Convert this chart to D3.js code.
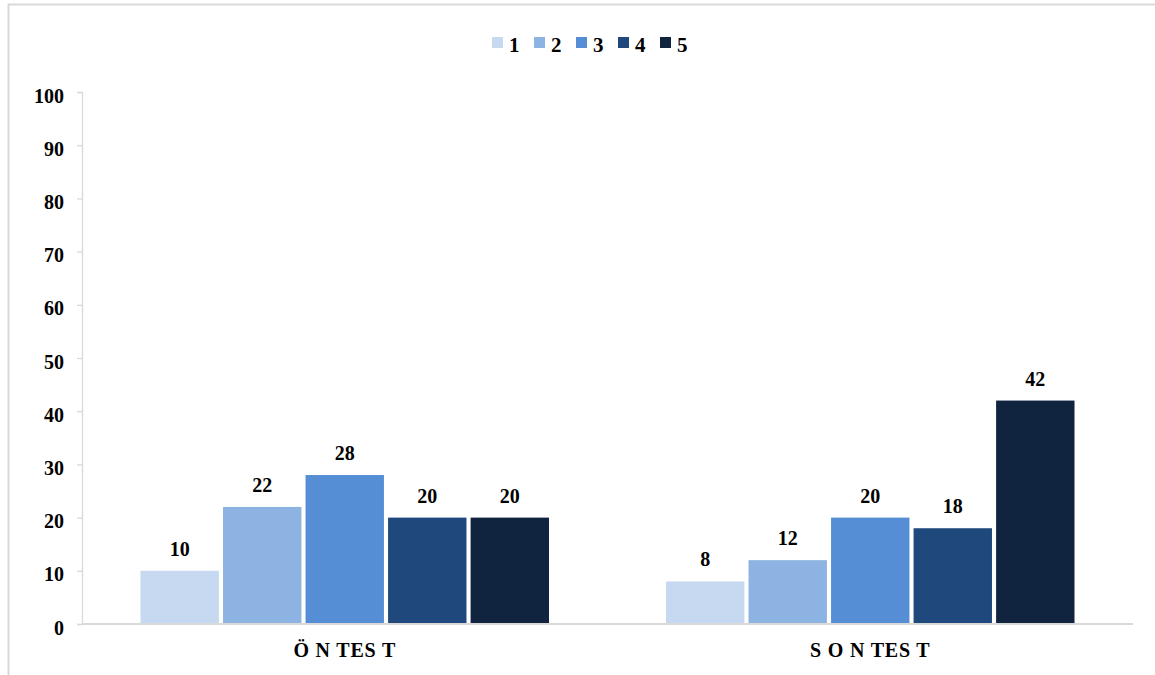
<!DOCTYPE html>
<html>
<head>
<meta charset="utf-8">
<script src="https://cdn.jsdelivr.net/npm/d3@7"></script>
<style>
  html, body { margin: 0; padding: 0; background: #fff; }
  svg text { font-family: "Liberation Serif", "Times New Roman", serif; font-weight: bold; fill: #000; }
</style>
</head>
<body>
<svg id="chart" width="1155" height="675"></svg>
<script>
// Test phases (x categories)
const categories = ["Ö N TES T", "S O N TES T"];
// Rating levels shown in the legend
const seriesNames = ["1", "2", "3", "4", "5"];
// Percent of responses per level, one array per phase
const pretestValues = [10, 22, 28, 20, 20];
const posttestValues = [8, 12, 20, 18, 42];
const seriesColors = ["#C6D9F1", "#8DB3E2", "#558ED5", "#1F497D", "#10243F"];
const yTicks = [0, 10, 20, 30, 40, 50, 60, 70, 80, 90, 100];

const data = categories.map((c, i) => ({
  category: c,
  values: (i === 0 ? pretestValues : posttestValues).map((v, j) => ({ key: seriesNames[j], value: v }))
}));

const svg = d3.select("#chart");

// Outer frame
svg.append("path")
  .attr("d", "M8.5,675 V4.5 H1155")
  .attr("fill", "none")
  .attr("stroke", "#d9d9d9")
  .attr("stroke-width", 2);

const plot = { left: 82, right: 1133, top: 92, bottom: 624 };

const x0 = d3.scaleBand()
  .domain(categories)
  .range([plot.left, plot.right])
  .padding(0);

const groupPad = 58.5;
const x1 = d3.scaleBand()
  .domain(seriesNames)
  .range([groupPad, x0.bandwidth() - groupPad])
  .paddingInner(0.05)
  .paddingOuter(0);

const y = d3.scaleLinear().domain([0, 100]).range([plot.bottom, plot.top]);

const color = d3.scaleOrdinal().domain(seriesNames).range(seriesColors);

// Y axis
const yAxis = svg.append("g")
  .attr("transform", `translate(${plot.left},0)`)
  .call(d3.axisLeft(y).tickValues(yTicks).tickSize(5).tickPadding(13));
yAxis.select(".domain").attr("stroke", "#d9d9d9").attr("stroke-width", 1.3);
yAxis.selectAll(".tick line").attr("stroke", "#d9d9d9").attr("stroke-width", 1.3);
yAxis.selectAll(".tick text")
  .attr("font-size", 20)
  .attr("dy", "0.5em")
  .attr("font-family", "Liberation Serif, Times New Roman, serif")
  .attr("font-weight", "bold")
  .attr("fill", "#000");

// Bars
const groups = svg.append("g").selectAll("g")
  .data(data)
  .join("g")
  .attr("transform", d => `translate(${x0(d.category)},0)`);

groups.selectAll("rect")
  .data(d => d.values)
  .join("rect")
  .attr("x", d => x1(d.key))
  .attr("y", d => y(d.value))
  .attr("width", x1.bandwidth())
  .attr("height", d => y(0) - y(d.value))
  .attr("fill", d => color(d.key));

// Value labels
groups.selectAll("text.value")
  .data(d => d.values)
  .join("text")
  .attr("class", "value")
  .attr("x", d => x1(d.key) + x1.bandwidth() / 2)
  .attr("y", d => y(d.value) - 15)
  .attr("text-anchor", "middle")
  .attr("font-size", 20)
  .text(d => d.value);

// X axis baseline
svg.append("line")
  .attr("x1", plot.left).attr("x2", plot.right)
  .attr("y1", plot.bottom).attr("y2", plot.bottom)
  .attr("stroke", "#d9d9d9")
  .attr("stroke-width", 2);

// Category labels
svg.append("g").selectAll("text")
  .data(categories)
  .join("text")
  .attr("x", d => x0(d) + x0.bandwidth() / 2)
  .attr("y", 657)
  .attr("text-anchor", "middle")
  .attr("font-size", 20)
  .attr("letter-spacing", 0.8)
  .text(d => d);

// Legend
const legend = svg.append("g").attr("transform", "translate(492,37)");
const item = legend.selectAll("g")
  .data(seriesNames)
  .join("g")
  .attr("transform", (d, i) => `translate(${i * 42},0)`);
item.append("rect")
  .attr("width", 11).attr("height", 11)
  .attr("fill", d => color(d));
item.append("text")
  .attr("x", 17).attr("y", 15)
  .attr("font-size", 21)
  .text(d => d);
</script>
</body>
</html>
